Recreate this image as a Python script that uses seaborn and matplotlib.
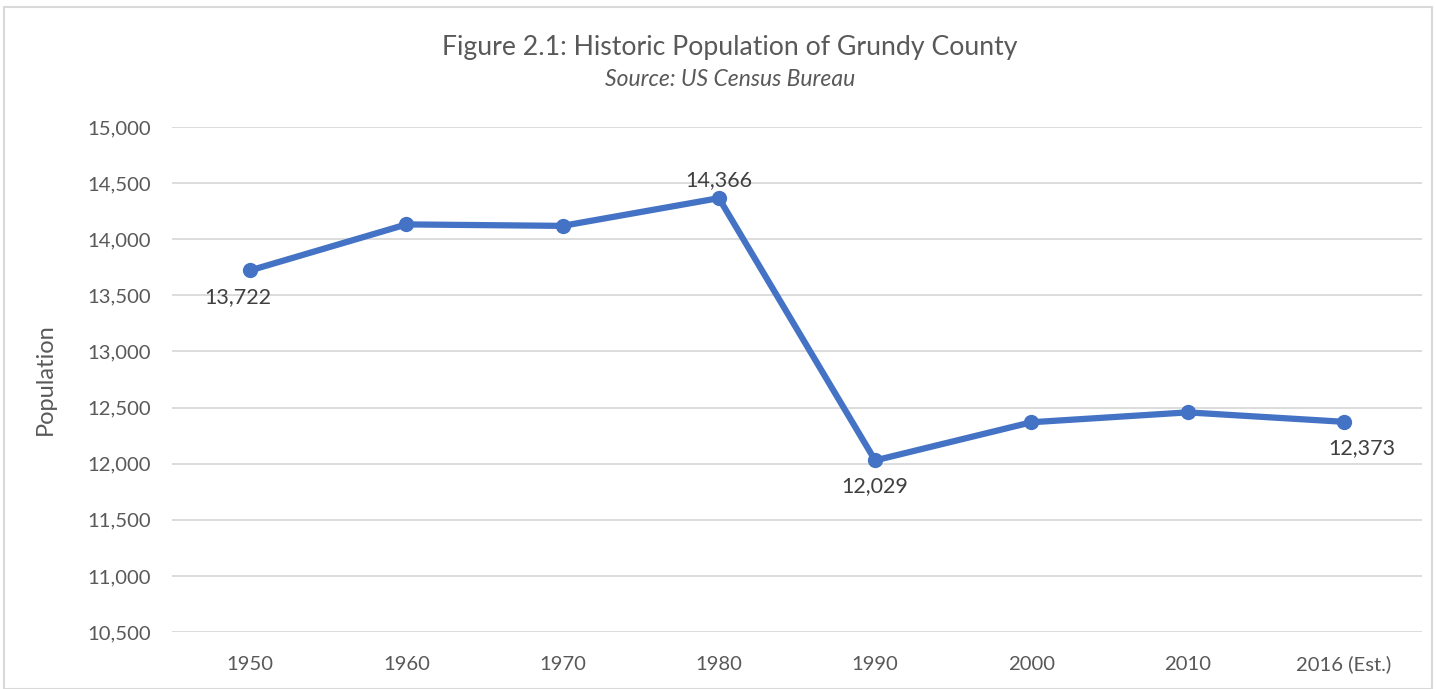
import matplotlib
matplotlib.use("Agg")
import matplotlib.pyplot as plt
import seaborn as sns
import pandas as pd
from matplotlib.patches import Rectangle

years = ["1950", "1960", "1970", "1980", "1990", "2000", "2010", "2016 (Est.)"]
population = [13722, 14132, 14119, 14366, 12029, 12369, 12457, 12373]
labeled = {0: "13,722", 3: "14,366", 4: "12,029", 7: "12,373"}
yticks = [10500, 11000, 11500, 12000, 12500, 13000, 13500, 14000, 14500, 15000]

sns.set_theme(style="white")
plt.rcParams['font.family'] = ['Lato', 'DejaVu Sans']

df = pd.DataFrame({"year": years, "pop": population})

fig = plt.figure(figsize=(14.36, 6.89), dpi=100)
ax = fig.add_axes([172/1436, 1-632/689, 1250/1436, 505/689])

color = "#4472C4"
sns.lineplot(data=df, x="year", y="pop", ax=ax, color=color, linewidth=4.5,
             marker="o", markersize=11, markeredgewidth=0, sort=False)

ax.set_ylim(10500, 15000)
ax.set_xlim(-0.5, len(years) - 0.5)
ax.set_yticks(yticks)
ax.set_yticklabels([f"{v:,}" for v in yticks])
ax.yaxis.grid(True, color="#d9d9d9", linewidth=1.3)
ax.xaxis.grid(False)
for s in ax.spines.values():
    s.set_visible(False)
ax.tick_params(axis="y", labelsize=14.6, colors="#595959", length=0, pad=15)
ax.tick_params(axis="x", labelsize=14.6, colors="#595959", length=0, pad=17)
ax.set_xlabel("")
ax.set_ylabel("Population", fontsize=17, color="#595959", labelpad=23)

offsets = {0: (-9, -12, "top"), 3: (0, 6, "bottom"), 4: (0, -11, "top"), 7: (13, -12, "top")}
for i, txt in labeled.items():
    dx, dy, va = offsets[i]
    ax.annotate(txt, (i, population[i]), xytext=(dx, dy), textcoords="offset points",
                ha="center", va=va, fontsize=15.5, color="#404040")

fig.text(730/1436, 1-47/689, "Figure 2.1: Historic Population of Grundy County",
         ha="center", va="center", fontsize=19.2, color="#595959")
fig.text(730/1436, 1-80/689, "Source: US Census Bureau", ha="center", va="center",
         fontsize=16.5, style="italic", color="#595959")

fig.patches.append(Rectangle((4/1436, 0), 1-8/1436, 1-7/689, transform=fig.transFigure,
                             fill=False, edgecolor="#d9d9d9", linewidth=1.5))

fig.savefig("out.png", dpi=100)
